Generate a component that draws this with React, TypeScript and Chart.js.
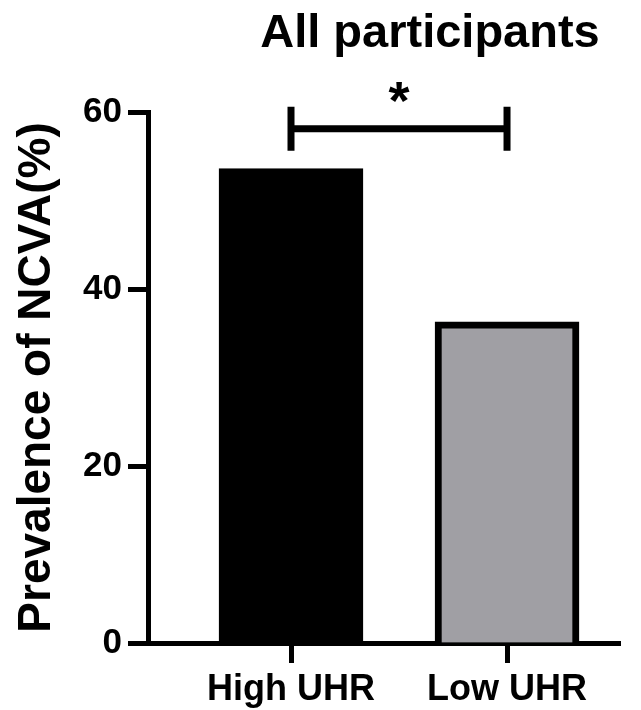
import React, { useEffect, useRef } from 'react';
import { Chart, registerables } from 'chart.js';

Chart.register(...registerables);

// ---- data ----
const categories = ['High UHR', 'Low UHR'];
const prevalence = [53.6, 36.3];
const barColors = ['#000000', '#A09FA4'];
const yTicks = [0, 20, 40, 60];
const chartTitle = 'All participants';
const yAxisTitle = 'Prevalence of NCVA(%)';
const sigLabel = '*';
const sigLevel = 58.1;

const FONT = '"Liberation Sans", Arial, Helvetica, sans-serif';

export default function App() {
  const ref = useRef<HTMLCanvasElement>(null);

  useEffect(() => {
    const canvas = ref.current;
    if (!canvas) return;

    const annotate = {
      id: 'annotate',
      afterDraw(chart: any) {
        const { ctx, chartArea } = chart;
        const xs = chart.scales.x;
        const ys = chart.scales.y;
        ctx.save();
        // significance bracket
        const x1 = xs.getPixelForValue(1);
        const x2 = xs.getPixelForValue(2);
        const yb = ys.getPixelForValue(sigLevel);
        ctx.strokeStyle = '#000';
        ctx.lineWidth = 7;
        ctx.lineCap = 'butt';
        ctx.beginPath();
        ctx.moveTo(x1, yb);
        ctx.lineTo(x2, yb);
        ctx.moveTo(x1, yb - 22);
        ctx.lineTo(x1, yb + 22);
        ctx.moveTo(x2, yb - 22);
        ctx.lineTo(x2, yb + 22);
        ctx.stroke();

        // asterisk
        ctx.fillStyle = '#000';
        ctx.font = `bold 100px ${FONT}`;
        const m100 = ctx.measureText(sigLabel);
        const w100 = m100.actualBoundingBoxLeft + m100.actualBoundingBoxRight || 30;
        const size = Math.round((100 * 21) / w100);
        ctx.font = `bold ${size}px ${FONT}`;
        const m = ctx.measureText(sigLabel);
        const cx = (x1 + x2) / 2;
        const cy = yb - 36;
        ctx.textAlign = 'left';
        ctx.textBaseline = 'alphabetic';
        const gx = cx - (m.actualBoundingBoxRight - m.actualBoundingBoxLeft) / 2;
        const gy = cy + (m.actualBoundingBoxAscent - m.actualBoundingBoxDescent) / 2;
        ctx.fillText(sigLabel, gx, gy);

        // chart title
        ctx.font = `bold 47px ${FONT}`;
        ctx.textAlign = 'center';
        ctx.textBaseline = 'alphabetic';
        ctx.fillText(chartTitle, 430, 47);

        // y axis title
        ctx.translate(50, (chartArea.top + chartArea.bottom) / 2);
        ctx.rotate(-Math.PI / 2);
        ctx.font = `bold 46px ${FONT}`;
        ctx.textAlign = 'center';
        ctx.textBaseline = 'alphabetic';
        ctx.fillText(yAxisTitle, 0, 0);
        ctx.restore();
      },
    };

    const chart = new Chart(canvas, {
      type: 'bar',
      data: {
        datasets: [
          {
            data: categories.map((c, i) => ({ x: i + 1, y: prevalence[i] })),
            backgroundColor: barColors,
            borderColor: '#000',
            borderWidth: 7,
            borderSkipped: 'bottom',
            barThickness: 144,
          } as any,
        ],
      },
      options: {
        animation: false,
        responsive: false,
        devicePixelRatio: 1,
        layout: { padding: { top: 112, right: 21, left: 0, bottom: 0 } },
        plugins: {
          legend: { display: false },
          tooltip: { enabled: false },
          title: { display: false },
        },
        scales: {
          x: {
            type: 'linear',
            min: 0.338,
            max: 2.523,
            offset: false,
            z: 1,
            afterBuildTicks: (s: any) => {
              s.ticks = categories.map((_, i) => ({ value: i + 1 }));
            },
            afterFit: (s: any) => {
              s.height = 67;
            },
            ticks: {
              callback: (v: any) => categories[Number(v) - 1] ?? '',
              font: { family: FONT, size: 36, weight: 'bold' },
              color: '#000',
              padding: 5,
              maxRotation: 0,
              autoSkip: false,
            },
            grid: {
              offset: false,
              drawOnChartArea: false,
              tickLength: 20,
              tickWidth: 5,
              tickColor: '#000',
            },
            border: { display: true, width: 5, color: '#000' },
          } as any,
          y: {
            min: 0,
            max: 60,
            z: 1,
            afterBuildTicks: (s: any) => {
              s.ticks = yTicks.map((v) => ({ value: v }));
            },
            afterFit: (s: any) => {
              s.width = 148;
            },
            ticks: {
              font: { family: FONT, size: 35, weight: 'bold' },
              color: '#000',
              padding: 6,
            },
            grid: {
              drawOnChartArea: false,
              tickLength: 20,
              tickWidth: 5,
              tickColor: '#000',
            },
            border: { display: true, width: 5, color: '#000' },
          } as any,
        },
      },
      plugins: [annotate],
    });

    return () => chart.destroy();
  }, []);

  return (
    <div style={{ position: 'fixed', left: 0, top: 0, width: 641, height: 710, background: '#fff' }}>
      <canvas ref={ref} width={641} height={710} style={{ display: 'block' }} />
    </div>
  );
}
